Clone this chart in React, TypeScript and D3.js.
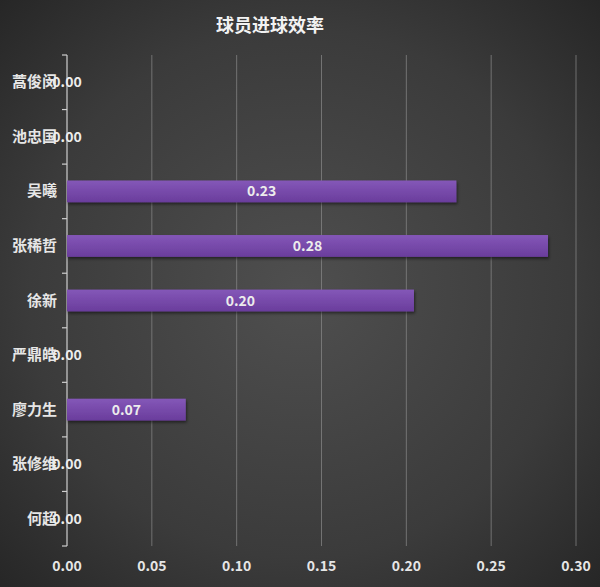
import React from "react";
import * as d3 from "d3";

const players = ["蒿俊闵", "池忠国", "吴曦", "张稀哲", "徐新", "严鼎皓", "廖力生", "张修维", "何超"];
const efficiency = [0, 0, 0.2295, 0.2835, 0.2045, 0, 0.07, 0, 0];
const xTicks = [0, 0.05, 0.1, 0.15, 0.2, 0.25, 0.3];
const title = "球员进球效率";

const W = 600;
const H = 587;
const left = 67;
const right = 576;
const top = 55;
const bottom = 546;

export default function App() {
  const x = d3.scaleLinear().domain([0, 0.3]).range([left, right]);
  const y = d3.scaleBand<string>().domain(players).range([top, bottom]).paddingInner(0.6).paddingOuter(0.3);
  const step = (bottom - top) / players.length;
  const font = "'Noto Sans CJK SC', 'Noto Sans', sans-serif";
  return (
    <svg width={W} height={H} style={{ position: "absolute", left: 0, top: 0 }}>
      <defs>
        <radialGradient id="bg" cx="50%" cy="50%" r="75%">
          <stop offset="0%" stopColor="#4f4f4f" />
          <stop offset="60%" stopColor="#3b3b3b" />
          <stop offset="100%" stopColor="#232323" />
        </radialGradient>
        <linearGradient id="bar" x1="0" y1="0" x2="0" y2="1">
          <stop offset="0%" stopColor="#8457b8" />
          <stop offset="100%" stopColor="#6a3d9c" />
        </linearGradient>
        <filter id="sh" x="-5%" y="-20%" width="110%" height="160%">
          <feDropShadow dx="1" dy="2" stdDeviation="1.5" floodColor="#000" floodOpacity="0.5" />
        </filter>
      </defs>
      <rect x={0} y={0} width={W} height={H} fill="url(#bg)" />
      <text x={270} y={32} textAnchor="middle" fill="#f2f2f2" fontFamily={font} fontWeight="bold" fontSize={18}>
        {title}
      </text>
      {xTicks.filter((t) => t > 0).map((t) => (
        <line key={t} x1={x(t)} x2={x(t)} y1={top} y2={bottom} stroke="#8a8a8a" strokeWidth={1} opacity={0.7} />
      ))}
      {xTicks.map((t) => (
        <text key={"l" + t} x={x(t)} y={571} textAnchor="middle" fill="#e6e6e6" fontFamily={font} fontWeight="bold" fontSize={14}>
          {t.toFixed(2)}
        </text>
      ))}
      <line x1={left} x2={left} y1={top} y2={bottom} stroke="#cfcfcf" strokeWidth={1.2} />
      {d3.range(players.length + 1).map((i) => (
        <line key={"t" + i} x1={left - 5} x2={left} y1={top + i * step} y2={top + i * step} stroke="#cfcfcf" strokeWidth={1.2} />
      ))}
      {players.map((p, i) => {
        const v = efficiency[i];
        const yy = y(p) as number;
        const bw = y.bandwidth();
        return (
          <g key={p}>
            <text x={57} y={yy + bw / 2 + 5} textAnchor="end" fill="#e6e6e6" fontFamily={font} fontWeight="bold" fontSize={15}>
              {p}
            </text>
            {v > 0 && (
              <rect x={x(0)} y={yy} width={x(v) - x(0)} height={bw} fill="url(#bar)" filter="url(#sh)" />
            )}
            <text
              x={(x(0) + x(v)) / 2}
              y={yy + bw / 2 + 5}
              textAnchor="middle"
              fill="#ececec"
              fontFamily={font}
              fontWeight="bold"
              fontSize={14}
            >
              {v.toFixed(2)}
            </text>
          </g>
        );
      })}
    </svg>
  );
}
